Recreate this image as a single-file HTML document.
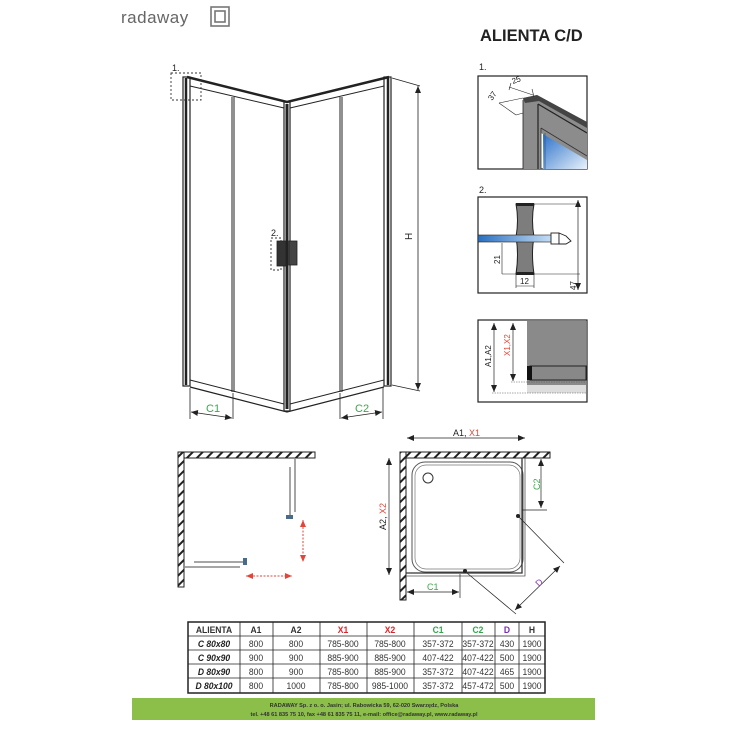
<!DOCTYPE html>
<html><head><meta charset="utf-8"><style>
html,body{margin:0;padding:0;background:#fff;}
svg{display:block;font-family:"Liberation Sans",sans-serif;}
</style></head><body>
<svg width="729" height="729" viewBox="0 0 729 729" xmlns="http://www.w3.org/2000/svg">
<defs>
<pattern id="hat" width="7" height="7" patternUnits="userSpaceOnUse" patternTransform="rotate(45)">
<rect width="7" height="7" fill="#fff"/><rect width="2" height="7" fill="#222"/></pattern>
<marker id="ar" markerWidth="8" markerHeight="8" refX="7" refY="4" orient="auto-start-reverse" markerUnits="userSpaceOnUse"><path d="M0,1 L7,4 L0,7 z" fill="#222"/></marker>
<marker id="arr" markerWidth="8" markerHeight="8" refX="7" refY="4" orient="auto-start-reverse" markerUnits="userSpaceOnUse"><path d="M0,1 L7,4 L0,7 z" fill="#e0463a"/></marker>
<linearGradient id="gl" x1="0" x2="1"><stop offset="0" stop-color="#2a6fc0"/><stop offset="1" stop-color="#cfe4f7"/></linearGradient>
<linearGradient id="gl2" x1="0" y1="0" x2="1" y2="1"><stop offset="0" stop-color="#2a70c8"/><stop offset="1" stop-color="#e8f2fb"/></linearGradient>
</defs>

<!-- logo -->
<text x="121" y="23" font-size="17" fill="#666" letter-spacing="0.5">radaway</text>
<rect x="211" y="7" width="18" height="19" fill="none" stroke="#777" stroke-width="1.6"/>
<rect x="215" y="11" width="10" height="11" fill="none" stroke="#777" stroke-width="1.6"/>

<text x="480" y="41" font-size="16.5" font-weight="bold" fill="#222">ALIENTA C/D</text>

<!-- main enclosure -->
<g stroke="#222" fill="none">
<rect x="183" y="77" width="7" height="309" fill="#fff" stroke-width="1.2"/>
<line x1="186" y1="78" x2="186" y2="385" stroke-width="2.5"/>
<rect x="384" y="77" width="7" height="309" fill="#fff" stroke-width="1.2"/>
<line x1="388" y1="78" x2="388" y2="385" stroke-width="2.5"/>
<rect x="284" y="102" width="6" height="309" fill="#fff" stroke-width="1.2"/>
<line x1="287" y1="104" x2="287" y2="409" stroke-width="3"/>
<polyline points="187,77 287,102 389,77" stroke-width="2.5"/>
<polyline points="190,86 284,108" stroke-width="1"/>
<polyline points="290,108 384,86" stroke-width="1"/>
<polyline points="190,380 284,404" stroke-width="1"/>
<polyline points="290,404 384,380" stroke-width="1"/>
<polyline points="190,387 287,412 384,387" stroke-width="1.2"/>
<line x1="232" y1="97" x2="232" y2="392" stroke-width="1"/>
<line x1="234" y1="97" x2="234" y2="392" stroke-width="1"/>
<line x1="340" y1="97" x2="340" y2="392" stroke-width="1"/>
<line x1="342" y1="97" x2="342" y2="392" stroke-width="1"/>
<rect x="277" y="241" width="9" height="25" fill="#333" stroke-width="0.8"/>
<rect x="289" y="241" width="8" height="24" fill="#444" stroke-width="0.8"/>
<line x1="392" y1="78" x2="420" y2="86" stroke-width="0.8"/>
<line x1="392" y1="385" x2="420" y2="391" stroke-width="0.8"/>
<line x1="418" y1="86" x2="418" y2="390" stroke-width="0.8" marker-start="url(#ar)" marker-end="url(#ar)"/>
<line x1="190" y1="388" x2="190" y2="419" stroke-width="0.8"/>
<line x1="233" y1="393" x2="233" y2="419" stroke-width="0.8"/>
<line x1="191" y1="412" x2="232" y2="418" stroke-width="0.8" marker-start="url(#ar)" marker-end="url(#ar)"/>
<line x1="340" y1="393" x2="340" y2="419" stroke-width="0.8"/>
<line x1="383" y1="388" x2="383" y2="419" stroke-width="0.8"/>
<line x1="341" y1="418" x2="382" y2="412" stroke-width="0.8" marker-start="url(#ar)" marker-end="url(#ar)"/>
</g>
<text x="0" y="0" font-size="10" fill="#222" transform="translate(412,240) rotate(-90)">H</text>
<text x="206" y="412" font-size="11" fill="#3aa84a">C1</text>
<text x="355" y="412" font-size="11" fill="#3aa84a">C2</text>
<rect x="171" y="73" width="30" height="27" fill="none" stroke="#333" stroke-width="0.9" stroke-dasharray="2,2"/>
<text x="172" y="71" font-size="9" fill="#222">1.</text>
<rect x="271" y="238" width="10" height="32" fill="none" stroke="#333" stroke-width="0.9" stroke-dasharray="2,2"/>
<text x="271" y="236" font-size="9" fill="#222">2.</text>

<!-- detail 1 -->
<text x="479" y="70" font-size="9" fill="#222">1.</text>
<rect x="478" y="76" width="109" height="93" fill="#fff" stroke="#222" stroke-width="1.2"/>
<polygon points="543,133 587,158 587,169 543,169" fill="url(#gl2)"/>
<polygon points="523,98 537,95 587,122 587,160 541,133 541,169 523,169" fill="#8c8c8c"/>
<polygon points="523,98 537,95 587,122 587,128 539,101 525,103" fill="#444"/>
<line x1="538" y1="104" x2="538" y2="169" stroke="#222" stroke-width="1.2"/>
<line x1="538" y1="104" x2="587" y2="133" stroke="#222" stroke-width="1.2"/>
<line x1="541" y1="128" x2="587" y2="156" stroke="#333" stroke-width="0.8"/>
<line x1="541" y1="128" x2="541" y2="169" stroke="#333" stroke-width="0.8"/>
<line x1="545" y1="133" x2="545" y2="169" stroke="#2a5a9a" stroke-width="0.8"/>
<line x1="523" y1="100" x2="523" y2="169" stroke="#222" stroke-width="0.8"/>
<g stroke="#222" stroke-width="0.6">
<line x1="509" y1="87" x2="533" y2="95"/>
<line x1="511" y1="83" x2="509" y2="90"/>
<line x1="532" y1="89" x2="534" y2="97"/>
<line x1="499" y1="103" x2="516" y2="115"/>
<line x1="499" y1="103" x2="523" y2="98"/>
<line x1="516" y1="115" x2="523" y2="113"/>
</g>
<text x="0" y="0" font-size="8" fill="#222" transform="translate(513,84) rotate(-20)">25</text>
<text x="0" y="0" font-size="8" fill="#222" transform="translate(492,101) rotate(-55)">37</text>

<!-- detail 2 -->
<text x="479" y="193" font-size="9" fill="#222">2.</text>
<rect x="478" y="197" width="109" height="96" fill="#fff" stroke="#222" stroke-width="1.2"/>
<path d="M516,204 h18 q-3,16 0,33 q-3,16 0,37 h-18 q3,-20 0,-37 q3,-17 0,-33z" fill="#7d7d7d" stroke="#222" stroke-width="1"/>
<rect x="516" y="203" width="18" height="3" fill="#222"/>
<rect x="516" y="272" width="18" height="3" fill="#222"/>
<rect x="478" y="235" width="78" height="7" fill="url(#gl)" stroke="#222" stroke-width="0.6"/>
<rect x="551" y="233" width="8" height="11" fill="#fff" stroke="#222" stroke-width="0.9"/>
<polygon points="559,233 566,236 571,241 566,244 559,244" fill="#fff" stroke="#222" stroke-width="0.9"/>
<line x1="534" y1="204" x2="580" y2="204" stroke="#222" stroke-width="0.6"/>
<line x1="502" y1="274" x2="580" y2="274" stroke="#222" stroke-width="0.6"/>
<line x1="578" y1="200" x2="578" y2="290" stroke="#222" stroke-width="0.7" marker-start="url(#ar)" marker-end="url(#ar)"/>
<line x1="502" y1="243" x2="502" y2="274" stroke="#222" stroke-width="0.6"/>
<line x1="516" y1="274" x2="516" y2="288" stroke="#222" stroke-width="0.6"/>
<line x1="534" y1="274" x2="534" y2="288" stroke="#222" stroke-width="0.6"/>
<line x1="516" y1="286" x2="534" y2="286" stroke="#222" stroke-width="0.6"/>
<text x="0" y="0" font-size="8" fill="#222" transform="translate(500,264) rotate(-90)">21</text>
<text x="520" y="284" font-size="8" fill="#222">12</text>
<text x="0" y="0" font-size="8" fill="#222" transform="translate(576,290) rotate(-90)">47</text>

<!-- detail 3 -->
<rect x="478" y="320" width="109" height="82" fill="#fff" stroke="#222" stroke-width="1.2"/>
<rect x="527" y="321" width="59" height="64" fill="#8a8a8a"/>
<rect x="527" y="385" width="59" height="8" fill="#ddd"/>
<rect x="530" y="366" width="56" height="14" fill="#888" stroke="#222" stroke-width="1"/>
<rect x="527" y="366" width="5" height="14" fill="#111"/>
<line x1="494" y1="323" x2="494" y2="392" stroke="#222" stroke-width="0.7" marker-start="url(#ar)" marker-end="url(#ar)"/>
<line x1="513" y1="323" x2="513" y2="381" stroke="#222" stroke-width="0.7" marker-start="url(#ar)" marker-end="url(#ar)"/>
<line x1="511" y1="382" x2="586" y2="382" stroke="#555" stroke-width="0.6" stroke-dasharray="1.5,1"/>
<line x1="492" y1="393" x2="586" y2="393" stroke="#555" stroke-width="0.6" stroke-dasharray="1.5,1"/>
<text x="0" y="0" font-size="8" fill="#222" transform="translate(491,367) rotate(-90)">A1,A2</text>
<text x="0" y="0" font-size="8" fill="#e0463a" transform="translate(510,356) rotate(-90)">X1,X2</text>

<!-- plan left -->
<rect x="178" y="452" width="137" height="6" fill="url(#hat)" stroke="#222" stroke-width="1"/>
<rect x="178" y="452" width="6" height="135" fill="url(#hat)" stroke="#222" stroke-width="1"/>
<g stroke="#888" stroke-width="1.5">
<line x1="295" y1="458" x2="295" y2="512"/>
<line x1="290" y1="467" x2="290" y2="516"/>
<line x1="194" y1="562" x2="245" y2="562"/>
<line x1="184" y1="567" x2="240" y2="567"/>
</g>
<rect x="286" y="515" width="7" height="4" fill="#4a6a8a"/>
<rect x="243" y="558" width="4" height="7" fill="#4a6a8a"/>
<g stroke="#e0463a" stroke-width="1" stroke-dasharray="2,1.5">
<line x1="303" y1="520" x2="303" y2="562" marker-start="url(#arr)" marker-end="url(#arr)"/>
<line x1="246" y1="576" x2="292" y2="576" marker-start="url(#arr)" marker-end="url(#arr)"/>
</g>

<!-- plan right -->
<rect x="400" y="452" width="150" height="6" fill="url(#hat)" stroke="#222" stroke-width="1"/>
<rect x="400" y="452" width="6" height="148" fill="url(#hat)" stroke="#222" stroke-width="1"/>
<rect x="412" y="462" width="111" height="110" rx="13" fill="#fff" stroke="#555" stroke-width="1"/>
<rect x="415" y="465" width="105" height="104" rx="11" fill="none" stroke="#777" stroke-width="0.7"/>
<circle cx="428" cy="478" r="5" fill="#fff" stroke="#333" stroke-width="1"/>
<polyline points="522,458 522,573 406,573" fill="none" stroke="#333" stroke-width="1.3"/>
<polyline points="525,458 525,576 406,576" fill="none" stroke="#555" stroke-width="0.8"/>
<circle cx="518" cy="516" r="2" fill="#222"/><circle cx="465" cy="571" r="2" fill="#222"/>
<g stroke="#222" stroke-width="0.7" fill="none">
<line x1="407" y1="438" x2="525" y2="438" marker-start="url(#ar)" marker-end="url(#ar)"/>
<line x1="389" y1="458" x2="389" y2="575" marker-start="url(#ar)" marker-end="url(#ar)"/>
<line x1="541" y1="459" x2="541" y2="508" marker-start="url(#ar)" marker-end="url(#ar)"/>
<line x1="522" y1="510" x2="547" y2="510"/>
<line x1="460" y1="574" x2="460" y2="598"/>
<line x1="407" y1="592" x2="459" y2="592" marker-start="url(#ar)" marker-end="url(#ar)"/>
<line x1="519" y1="517" x2="564" y2="563"/>
<line x1="467" y1="573" x2="516" y2="614"/>
<line x1="560" y1="566" x2="515" y2="610" marker-start="url(#ar)" marker-end="url(#ar)"/>
</g>
<text x="453" y="436" font-size="9" fill="#222">A1, <tspan fill="#e0463a">X1</tspan></text>
<text x="0" y="0" font-size="9" fill="#222" transform="translate(386,530) rotate(-90)">A2, <tspan fill="#e0463a">X2</tspan></text>
<text x="0" y="0" font-size="9" fill="#3aa84a" transform="translate(540,490) rotate(-90)">C2</text>
<text x="427" y="590" font-size="9" fill="#3aa84a">C1</text>
<text x="0" y="0" font-size="9" fill="#8a3ab0" transform="translate(539,587) rotate(-45)">D</text>

<!-- table -->
<rect x="188" y="622" width="357" height="71" fill="#fff" stroke="#222" stroke-width="1.5"/>
<g stroke="#222" stroke-width="0.8">
<line x1="188" y1="636" x2="545" y2="636"/><line x1="188" y1="650" x2="545" y2="650"/>
<line x1="188" y1="664" x2="545" y2="664"/><line x1="188" y1="678" x2="545" y2="678"/>
<line x1="240" y1="622" x2="240" y2="693"/><line x1="273" y1="622" x2="273" y2="693"/>
<line x1="320" y1="622" x2="320" y2="693"/><line x1="367" y1="622" x2="367" y2="693"/>
<line x1="414" y1="622" x2="414" y2="693"/><line x1="462" y1="622" x2="462" y2="693"/>
<line x1="495" y1="622" x2="495" y2="693"/><line x1="519" y1="622" x2="519" y2="693"/>
</g>
<g font-size="9.5" fill="#333" text-anchor="middle" transform="scale(0.9,1)">
<g font-weight="bold">
<text x="237.8" y="633">ALIENTA</text><text x="284.4" y="633">A1</text><text x="328.9" y="633">A2</text>
<text x="381.1" y="633" fill="#e0232a">X1</text><text x="433.3" y="633" fill="#e0232a">X2</text>
<text x="486.7" y="633" fill="#2ea84a">C1</text><text x="531.1" y="633" fill="#2ea84a">C2</text>
<text x="563.3" y="633" fill="#7a2ab0">D</text><text x="591.1" y="633">H</text>
</g>
<g font-weight="bold" font-style="italic" fill="#222">
<text x="237.8" y="647">C 80x80</text><text x="237.8" y="661">C 90x90</text>
<text x="237.8" y="675">D 80x90</text><text x="237.8" y="689">D 80x100</text>
</g>
<text x="284.4" y="647">800</text><text x="328.9" y="647">800</text><text x="381.1" y="647">785-800</text><text x="433.3" y="647">785-800</text><text x="486.7" y="647">357-372</text><text x="531.1" y="647">357-372</text><text x="563.3" y="647">430</text><text x="591.1" y="647">1900</text>
<text x="284.4" y="661">900</text><text x="328.9" y="661">900</text><text x="381.1" y="661">885-900</text><text x="433.3" y="661">885-900</text><text x="486.7" y="661">407-422</text><text x="531.1" y="661">407-422</text><text x="563.3" y="661">500</text><text x="591.1" y="661">1900</text>
<text x="284.4" y="675">800</text><text x="328.9" y="675">900</text><text x="381.1" y="675">785-800</text><text x="433.3" y="675">885-900</text><text x="486.7" y="675">357-372</text><text x="531.1" y="675">407-422</text><text x="563.3" y="675">465</text><text x="591.1" y="675">1900</text>
<text x="284.4" y="689">800</text><text x="328.9" y="689">1000</text><text x="381.1" y="689">785-800</text><text x="433.3" y="689">985-1000</text><text x="486.7" y="689">357-372</text><text x="531.1" y="689">457-472</text><text x="563.3" y="689">500</text><text x="591.1" y="689">1900</text>
</g>

<!-- footer -->
<rect x="132" y="698" width="463" height="22" fill="#8cbf4a"/>
<g font-size="5.6" fill="#333" text-anchor="middle" font-weight="bold">
<text x="364" y="707">RADAWAY Sp. z o. o. Jasin; ul. Rabowicka 59, 62-020 Swarzędz, Polska</text>
<text x="364" y="716">tel. +48 61 835 75 10, fax +48 61 835 75 11, e-mail: office@radaway.pl, www.radaway.pl</text>
</g>
</svg>
</body></html>
